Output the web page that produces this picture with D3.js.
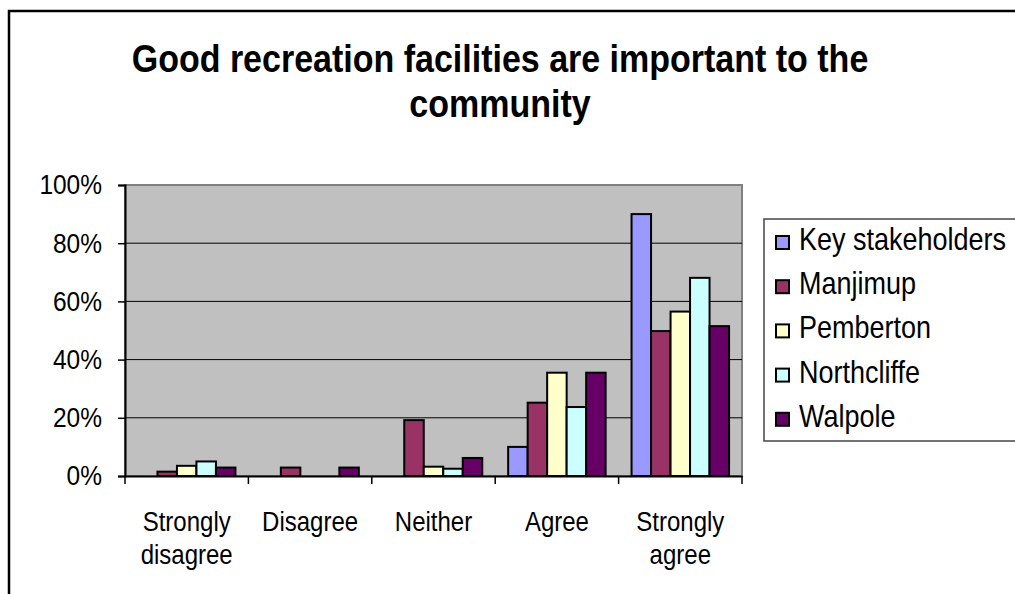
<!DOCTYPE html>
<html>
<head>
<meta charset="utf-8">
<script src="https://cdn.jsdelivr.net/npm/d3@7"></script>
<style>
  body { margin: 0; background: #fff; }
  text { font-family: "Liberation Sans", Arial, sans-serif; fill: #000; }
</style>
</head>
<body>
<div id="chart"></div>
<script>
// Chart data
var titleLines = ["Good recreation facilities are important to the", "community"];
var categories = ["Strongly disagree", "Disagree", "Neither", "Agree", "Strongly agree"];
var categoryLines = [["Strongly", "disagree"], ["Disagree"], ["Neither"], ["Agree"], ["Strongly", "agree"]];
var seriesNames = ["Key stakeholders", "Manjimup", "Pemberton", "Northcliffe", "Walpole"];
var seriesColors = ["#9999FF", "#993366", "#FFFFCC", "#CCFFFF", "#660066"];
var keyStakeholders = [0, 0, 0, 10, 90];
var manjimup = [1.5, 2.9, 19.2, 25.2, 49.8];
var pemberton = [3.5, 0, 3.2, 35.5, 56.5];
var northcliffe = [5.0, 0, 2.5, 23.7, 68.1];
var walpole = [2.9, 2.9, 6.2, 35.5, 51.5];
var yTicks = [0, 20, 40, 60, 80, 100];

var seriesValues = [keyStakeholders, manjimup, pemberton, northcliffe, walpole];

var W = 1015, H = 594;
var plot = { left: 125, right: 742, top: 185, bottom: 476 };
var stretch = 1.13; // the original text looks a bit taller than it is wide

var svg = d3.select("#chart").append("svg")
    .attr("width", W)
    .attr("height", H);

// outer chart frame
svg.append("rect")
    .attr("x", 9).attr("y", 11)
    .attr("width", W + 20).attr("height", H + 20)
    .attr("fill", "#fff")
    .attr("stroke", "#000")
    .attr("stroke-width", 2.5);

// title
svg.append("g")
    .selectAll("text")
    .data(titleLines)
    .enter().append("text")
    .attr("transform", function (d, i) { return "translate(500," + (72 + i * 45) + ") scale(1," + stretch + ")"; })
    .attr("text-anchor", "middle")
    .style("font-size", "34px")
    .style("font-weight", "bold")
    .text(function (d) { return d; });

// scales
var x0 = d3.scaleBand().domain(categories).range([plot.left, plot.right]);
var pad = x0.bandwidth() * 0.105;
var x1 = d3.scaleBand().domain(seriesNames).range([pad, x0.bandwidth() - pad]);
var y = d3.scaleLinear().domain([0, 100]).range([plot.bottom, plot.top]);

// plot area
svg.append("rect")
    .attr("x", plot.left).attr("y", plot.top)
    .attr("width", plot.right - plot.left).attr("height", plot.bottom - plot.top)
    .attr("fill", "#C0C0C0")
    .attr("stroke", "#808080")
    .attr("stroke-width", 2);

// gridlines
svg.append("g")
    .selectAll("line")
    .data(yTicks.filter(function (d) { return d > 0 && d < 100; }))
    .enter().append("line")
    .attr("x1", plot.left).attr("x2", plot.right)
    .attr("y1", function (d) { return y(d); })
    .attr("y2", function (d) { return y(d); })
    .attr("stroke", "#000")
    .attr("stroke-width", 1);

// bars
var groups = svg.append("g")
    .selectAll("g")
    .data(seriesNames)
    .enter().append("g")
    .attr("fill", function (d, i) { return seriesColors[i]; });

groups.selectAll("rect")
    .data(function (d, i) {
        return categories.map(function (c, j) {
            return { series: d, cat: c, value: seriesValues[i][j] };
        }).filter(function (e) { return e.value > 0; });
    })
    .enter().append("rect")
    .attr("x", function (d) { return x0(d.cat) + x1(d.series); })
    .attr("width", x1.bandwidth())
    .attr("y", function (d) { return y(d.value); })
    .attr("height", function (d) { return y(0) - y(d.value); })
    .attr("stroke", "#000")
    .attr("stroke-width", 2);

// Y axis
var yAxis = d3.axisLeft(y)
    .tickValues(yTicks)
    .tickSize(7)
    .tickPadding(16)
    .tickFormat(function (d) { return d + "%"; });

var yG = svg.append("g")
    .attr("transform", "translate(" + plot.left + ",0)")
    .call(yAxis);
yG.select(".domain").attr("stroke", "#000").attr("stroke-width", 2);
yG.selectAll(".tick line").attr("stroke", "#000").attr("stroke-width", 1.5);
yG.selectAll(".tick text")
    .style("font-size", "24.5px")
    .attr("transform", "scale(1," + stretch + ")")
    .attr("fill", "#000");
yG.attr("font-family", null).attr("font-size", null);

// X axis
var xAxis = d3.axisBottom(x0)
    .tickSize(0)
    .tickFormat("");

var xG = svg.append("g")
    .attr("transform", "translate(0," + plot.bottom + ")")
    .call(xAxis);
xG.select(".domain").attr("stroke", "#000").attr("stroke-width", 2);

// category separator ticks
xG.selectAll(".sep")
    .data(categories.concat(["end"]))
    .enter().append("line")
    .attr("class", "sep")
    .attr("x1", function (d, i) { return plot.left + i * x0.bandwidth(); })
    .attr("x2", function (d, i) { return plot.left + i * x0.bandwidth(); })
    .attr("y1", 0)
    .attr("y2", 8)
    .attr("stroke", "#000")
    .attr("stroke-width", 1.5);

// category labels
var catG = svg.append("g");
categories.forEach(function (c, i) {
    var cx = x0(c) + x0.bandwidth() / 2;
    catG.selectAll(".cl" + i)
        .data(categoryLines[i])
        .enter().append("text")
        .attr("class", "cl" + i)
        .attr("text-anchor", "middle")
        .attr("transform", function (t, k) { return "translate(" + cx + "," + (531 + k * 33) + ") scale(1," + stretch + ")"; })
        .style("font-size", "24px")
        .text(function (t) { return t; });
});

// legend
var legend = svg.append("g");
legend.append("rect")
    .attr("x", 764).attr("y", 219)
    .attr("width", 300).attr("height", 222)
    .attr("fill", "#fff")
    .attr("stroke", "#444")
    .attr("stroke-width", 1.5);

var items = legend.selectAll(".item")
    .data(seriesNames)
    .enter().append("g")
    .attr("class", "item")
    .attr("transform", function (d, i) { return "translate(0," + (250 + i * 44.2) + ")"; });

items.append("rect")
    .attr("x", 776).attr("y", -14)
    .attr("width", 13).attr("height", 13)
    .attr("fill", function (d, i) { return seriesColors[i]; })
    .attr("stroke", "#000")
    .attr("stroke-width", 2);

items.append("text")
    .attr("transform", "translate(799,0) scale(1," + stretch + ")")
    .style("font-size", "27px")
    .text(function (d) { return d; });
</script>
</body>
</html>
